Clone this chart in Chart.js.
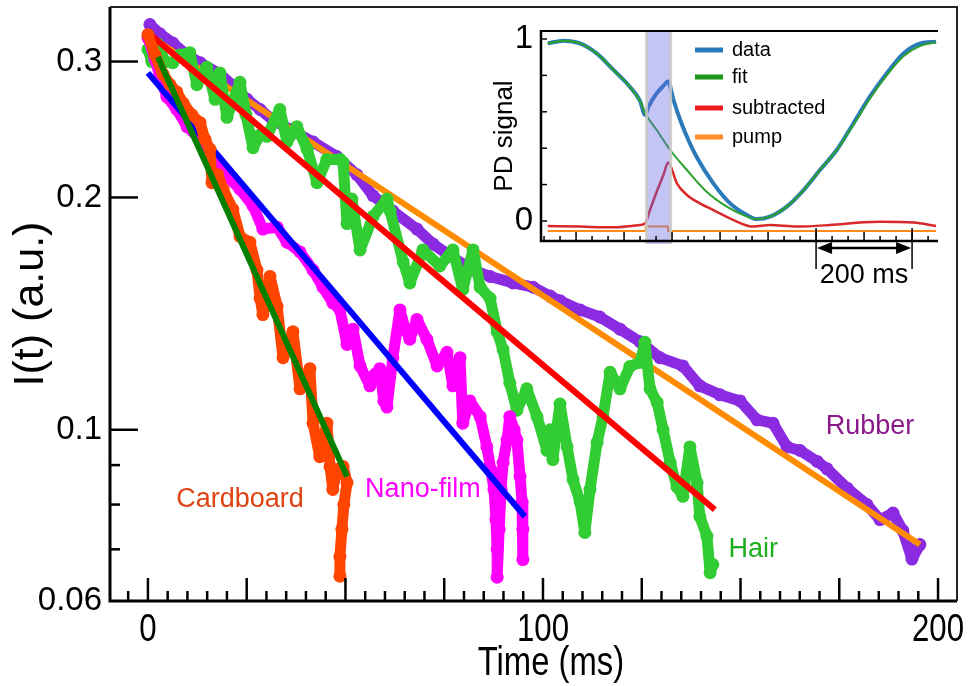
<!DOCTYPE html>
<html><head><meta charset="utf-8">
<script src="https://cdn.jsdelivr.net/npm/chart.js@4.4.1/dist/chart.umd.min.js"></script>
<style>
html,body{margin:0;padding:0;background:#fff;overflow:hidden;}
#wrap{position:relative;width:970px;height:686px;background:#fff;}
canvas{position:absolute;top:0;}
#main{left:0;}
#inset{left:470px;}
</style></head><body>
<div id="wrap">
<canvas id="main" width="970" height="686" style="width:970px;height:686px"></canvas>
<canvas id="inset" width="490" height="300" style="width:490px;height:300px"></canvas>
</div>
<script>
// ---------------- main plot data: time (ms) and I(t) (a.u.) ----------------
const rubberT = [0.5,3.0,6.3,9.9,13.2,18.2,22.0,25.1,28.4,31.6,36.0,41.8,47.8,52.9,57.0,62.0,68.1,72.2,76.5,82.3,86.6,92.4,97.5,101.8,104.3,109.4,114.4,119.5,124.6,129.6,135.4,139.7,144.8,149.9,154.2,158.2,161.8,165.1,169.4,171.9,177.0,182.0,185.3,188.6,191.1,193.4,195.4];
const rubberI = [0.335,0.326,0.317,0.306,0.299,0.289,0.278,0.268,0.260,0.252,0.245,0.236,0.226,0.214,0.201,0.192,0.182,0.174,0.168,0.161,0.158,0.155,0.153,0.149,0.147,0.143,0.140,0.135,0.130,0.124,0.121,0.114,0.111,0.109,0.103,0.102,0.095,0.094,0.091,0.089,0.084,0.080,0.0765,0.078,0.074,0.068,0.071];

const hairT = [0,1,2.5,4.3,6.3,8.1,10.6,12.4,14.9,17,18.2,20,23.3,24.8,26.6,28.4,30.1,33.4,35.2,37.7,40.3,42.8,45.3,48.6,49.4,50.4,51.6,53.7,57,60.5,61.3,64.6,66.3,69.6,73.9,77.2,79.7,82.3,84.1,86.6,88.4,89.9,91.6,93.4,95.9,98.5,101,101.8,102.5,104.3,106.1,107.6,109.4,110.6,111.9,113.7,115.2,117,119.5,122,124.6,125.8,127.1,128.9,130.4,132.2,133.9,135.4,137.2,139,139.7,141.5,142.3,143];
const hairI = [0.311,0.300,0.316,0.300,0.299,0.306,0.308,0.280,0.295,0.268,0.290,0.254,0.282,0.256,0.232,0.241,0.240,0.260,0.236,0.247,0.231,0.209,0.224,0.224,0.222,0.185,0.199,0.171,0.189,0.199,0.192,0.165,0.155,0.171,0.163,0.171,0.152,0.171,0.153,0.148,0.134,0.127,0.115,0.106,0.113,0.104,0.094,0.100,0.0915,0.108,0.095,0.0862,0.0806,0.0736,0.0837,0.0963,0.104,0.1187,0.113,0.1208,0.1223,0.1298,0.113,0.1085,0.100,0.0907,0.0844,0.082,0.095,0.0854,0.0772,0.0728,0.0653,0.0669];

const nanoT = [0,1.8,3.0,4.8,7.3,9.9,13.2,16.5,20.0,23.3,26.6,29.1,32.7,35.2,38.5,41.8,44.3,46.8,48.6,50.4,51.9,53.7,56.2,57.5,58.7,59.7,60.5,62.0,63.8,65.1,66.3,68.1,70.6,73.2,75.7,77.2,79.0,79.7,81.5,84.1,85.8,86.8,87.6,88.1,88.4,88.4,88.9,89.4,89.9,90.9,91.6,92.7,93.4,94.2,94.7,94.9,94.9];
const nanoI = [0.322,0.302,0.287,0.270,0.260,0.247,0.238,0.226,0.213,0.205,0.195,0.182,0.183,0.175,0.170,0.161,0.153,0.146,0.143,0.129,0.135,0.121,0.114,0.118,0.120,0.109,0.107,0.124,0.143,0.135,0.131,0.139,0.131,0.121,0.126,0.114,0.124,0.102,0.109,0.104,0.095,0.0888,0.0837,0.0765,0.0700,0.0644,0.0743,0.0837,0.0907,0.097,0.104,0.100,0.097,0.087,0.0806,0.0743,0.0679];

const cardT = [0,1.8,3.8,5.6,7.3,8.9,11.1,13.2,14.4,15.7,16.2,17.7,19.0,21.5,23.3,25.8,27.6,28.4,29.1,30.9,32.7,34.2,36.7,38.5,41.0,41.8,43.5,45.3,46.1,46.8,47.8,49.4,50.4,49.6,49.1,48.6,48.6];
const cardI = [0.325,0.306,0.289,0.280,0.274,0.265,0.256,0.250,0.238,0.231,0.209,0.214,0.205,0.193,0.178,0.175,0.161,0.148,0.141,0.158,0.1445,0.124,0.134,0.113,0.120,0.102,0.0923,0.102,0.0896,0.0837,0.0888,0.0896,0.0854,0.0800,0.0743,0.0685,0.0646];

// exponential fits (straight lines on the log axis): end points
const rubberFitT = [0, 195.4], rubberFitI = [0.325, 0.071];
const hairFitT   = [0, 143.5], hairFitI   = [0.327, 0.0788];
const nanoFitT   = [0, 95.4],  nanoFitI   = [0.290, 0.0772];
const cardFitT   = [2.5, 50.4], cardFitI  = [0.304, 0.0870];

// axis ticks
const xTickValues = [0, 100, 200];
const xTickLabels = ['0', '100', '200'];
const yTickValues = [0.06, 0.1, 0.2, 0.3];
const yTickLabels = ['0.06', '0.1', '0.2', '0.3'];
const yMajorMarks = [0.1, 0.2, 0.3];
const yMinorMarks = [0.07, 0.08, 0.09];

// ---------------- inset data: time (ms) and PD signal ----------------
const insetDataT = [41,74,108,143,178,212,233,244,251,268,282,292,303,317,334,351,386,421,456,476,504,539,574,608,643,678,712,747,782,817,850];
const insetDataV = [0.976,0.991,0.976,0.921,0.830,0.738,0.661,0.582,0.628,0.701,0.742,0.766,0.665,0.555,0.445,0.353,0.207,0.097,0.033,0.011,0.024,0.079,0.170,0.280,0.390,0.537,0.683,0.811,0.921,0.976,0.985];
const insetFitT = [41,74,108,143,178,212,233,244,268,296,331,372,414,456,476,504,539,574,608,643,678,712,747,782,817,850];
const insetFitV = [0.976,0.991,0.976,0.921,0.830,0.738,0.661,0.592,0.500,0.390,0.280,0.161,0.079,0.024,0.011,0.024,0.079,0.170,0.280,0.390,0.530,0.672,0.800,0.905,0.962,0.982];
const insetSubT = [41,108,178,233,244,254,268,282,292,310,331,358,386,428,469,504,560,629,699,733,803,850];
const insetSubV = [-0.027,-0.031,-0.035,-0.022,-0.013,0.060,0.161,0.253,0.321,0.207,0.143,0.097,0.060,0.005,-0.031,-0.022,-0.031,-0.022,-0.007,-0.004,-0.009,-0.027];
const insetPumpT = [41,244,245,291,292,850];
const insetPumpV = [-0.055,-0.055,-0.031,-0.031,-0.055,-0.055];
const pumpWindow = [247, 297];
const scaleBar = [600, 800];
const insetYTickMarks = [0, 0.2, 0.4, 0.6, 0.8, 1.0];
const insetYTickValues = [0, 1];
const insetYTickLabels = ['0', '1'];
const insetXMajor = [100,200,300,400,500,600,700,800];

const SANS = '"Liberation Sans", Arial, Helvetica, sans-serif';
const NARROW_SCALE = 0.82;   // Arial-Narrow look: Liberation Sans compressed horizontally

function pts(t, v) { return t.map((x, i) => ({ x: x, y: v[i] })); }

function scatterSet(label, t, v, color, order) {
  return { label, data: pts(t, v), showLine: true, borderColor: color, backgroundColor: color,
    borderWidth: 11, pointRadius: 6.5, pointBorderWidth: 0, pointHoverRadius: 0,
    borderJoinStyle: 'round', borderCapStyle: 'round', tension: 0, order };
}
function fitSet(label, t, v, color, order) {
  return { label, data: pts(t, v), showLine: true, borderColor: color, backgroundColor: color,
    borderWidth: 6, pointRadius: 0, pointHoverRadius: 0, tension: 0, order };
}

// text annotations (style / placement, in data coordinates)
const annotations = [
  { text: 'Rubber',    t: 182.8, v: 0.101, color: '#8B1A8B' },
  { text: 'Hair',      t: 153.2, v: 0.0700, color: '#1DAF1D' },
  { text: 'Nano-film', t: 69.6,  v: 0.0837, color: '#FF00FF' },
  { text: 'Cardboard', t: 23.3,  v: 0.0812, color: '#DD4411' }
];

function narrowText(ctx, text, px, py, size) {
  ctx.save();
  ctx.font = size + 'px ' + SANS;
  ctx.textAlign = 'center';
  ctx.textBaseline = 'alphabetic';
  ctx.translate(px, py);
  ctx.scale(NARROW_SCALE, 1);
  ctx.fillText(text, 0, 0);
  ctx.restore();
}

const mainDecor = {
  id: 'mainDecor',
  afterDatasetsDraw(chart) {
    const { ctx, scales: { x, y } } = chart;
    ctx.save();
    ctx.font = '27px ' + SANS;
    ctx.textAlign = 'center';
    ctx.textBaseline = 'middle';
    annotations.forEach(an => {
      ctx.fillStyle = an.color;
      ctx.fillText(an.text, x.getPixelForValue(an.t), y.getPixelForValue(an.v));
    });
    ctx.restore();
  },
  afterDraw(chart) {
    const { ctx, chartArea: a, scales: { x, y } } = chart;
    ctx.save();
    ctx.strokeStyle = '#000';
    ctx.lineCap = 'butt';
    ctx.lineWidth = 2.5;
    for (let v = -5; v <= 200; v += 5) {
      const p = x.getPixelForValue(v);
      const L = (v % 25 === 0) ? 23 : 10;
      ctx.beginPath(); ctx.moveTo(p, a.bottom); ctx.lineTo(p, a.bottom - L); ctx.stroke();
    }
    yMajorMarks.forEach(v => {
      const p = y.getPixelForValue(v);
      ctx.beginPath(); ctx.moveTo(a.left, p); ctx.lineTo(a.left + 28, p); ctx.stroke();
    });
    yMinorMarks.forEach(v => {
      const p = y.getPixelForValue(v);
      ctx.beginPath(); ctx.moveTo(a.left, p); ctx.lineTo(a.left + 10, p); ctx.stroke();
    });
    ctx.lineWidth = 3;
    ctx.beginPath(); ctx.moveTo(a.left, a.top); ctx.lineTo(a.left, a.bottom); ctx.lineTo(a.right, a.bottom); ctx.stroke();
    ctx.lineWidth = 2;
    ctx.strokeStyle = '#222';
    ctx.beginPath(); ctx.moveTo(a.left, a.top); ctx.lineTo(a.right, a.top); ctx.lineTo(a.right, a.bottom); ctx.stroke();
    // x tick labels and axis title (narrow face)
    ctx.fillStyle = '#000';
    xTickValues.forEach((v, i) => narrowText(ctx, xTickLabels[i], x.getPixelForValue(v), a.bottom + 40, 38));
    narrowText(ctx, 'Time (ms)', x.getPixelForValue(102), a.bottom + 74, 40);
    ctx.restore();
  }
};

new Chart(document.getElementById('main'), {
  type: 'scatter',
  data: { datasets: [
    scatterSet('Rubber', rubberT, rubberI, '#8A2BE2', 8),
    fitSet('Rubber fit', rubberFitT, rubberFitI, '#FF8C00', 7),
    scatterSet('Hair', hairT, hairI, '#32CD32', 6),
    fitSet('Hair fit', hairFitT, hairFitI, '#FF0000', 5),
    scatterSet('Nano-film', nanoT, nanoI, '#FF00FF', 4),
    fitSet('Nano-film fit', nanoFitT, nanoFitI, '#0000FF', 3),
    scatterSet('Cardboard', cardT, cardI, '#FF4500', 2),
    fitSet('Cardboard fit', cardFitT, cardFitI, '#008000', 1)
  ]},
  options: {
    responsive: false, animation: false, devicePixelRatio: 1,
    layout: { padding: { left: 0, top: 7, right: 13, bottom: 0 }, autoPadding: false },
    plugins: { legend: { display: false }, tooltip: { enabled: false } },
    scales: {
      x: {
        type: 'linear', min: -9.6, max: 204.8,
        afterBuildTicks: s => { s.ticks = xTickValues.map(v => ({ value: v })); },
        afterFit: s => { s.height = 85; s.paddingLeft = 0; s.paddingRight = 0; },
        grid: { display: false, drawTicks: false }, border: { display: false },
        ticks: { display: false }
      },
      y: {
        type: 'logarithmic', min: 0.06, max: 0.353,
        afterBuildTicks: s => { s.ticks = yTickValues.map(v => ({ value: v })); },
        afterFit: s => { s.width = 110; s.paddingTop = 0; s.paddingBottom = 0; },
        grid: { display: false, drawTicks: false }, border: { display: false },
        ticks: { autoSkip: false, padding: 8, color: '#000',
          font: { family: SANS, size: 33 }, callback: (v, i) => yTickLabels[i] },
        title: { display: true, text: 'I(t) (a.u.)', color: '#000',
          font: { family: SANS, size: 43, lineHeight: 1 }, padding: { top: 10, bottom: 0 } }
      }
    }
  },
  plugins: [mainDecor]
});

// ---------------- inset ----------------
const insetLegend = [
  { text: 'data', color: '#2a7ab9' },
  { text: 'fit', color: '#1a961a' },
  { text: 'subtracted', color: '#ee1c1c' },
  { text: 'pump', color: '#ff8c28' }
];

const insetDecor = {
  id: 'insetDecor',
  afterDatasetsDraw(chart) {
    const { ctx, chartArea: a, scales: { x, y } } = chart;
    ctx.save();
    const x0 = x.getPixelForValue(pumpWindow[0]), x1 = x.getPixelForValue(pumpWindow[1]);
    ctx.fillStyle = 'rgba(100,100,230,0.38)';
    ctx.fillRect(x0, a.top, x1 - x0, a.bottom - a.top + 3);
    ctx.strokeStyle = 'rgba(200,200,200,0.85)';
    ctx.lineWidth = 3;
    [x0, x1].forEach(p => { ctx.beginPath(); ctx.moveTo(p, a.top); ctx.lineTo(p, a.bottom + 3); ctx.stroke(); });

    // frame
    ctx.strokeStyle = '#000';
    ctx.lineWidth = 2;
    ctx.beginPath(); ctx.moveTo(a.left, a.top); ctx.lineTo(a.right, a.top); ctx.stroke();
    ctx.lineWidth = 2.5;
    ctx.beginPath(); ctx.moveTo(a.left, a.top - 1); ctx.lineTo(a.left, a.bottom); ctx.lineTo(a.right, a.bottom); ctx.stroke();
    // ticks
    ctx.lineWidth = 1.5;
    insetYTickMarks.forEach(v => {
      const p = y.getPixelForValue(v);
      ctx.beginPath(); ctx.moveTo(a.left, p); ctx.lineTo(a.left + 6, p); ctx.stroke();
    });
    for (let v = 100 / 3; v < 854; v += 100 / 3) {
      const p = x.getPixelForValue(v);
      const major = insetXMajor.some(m => Math.abs(m - v) < 1);
      ctx.beginPath(); ctx.moveTo(p, a.bottom); ctx.lineTo(p, a.bottom - (major ? 9 : 5)); ctx.stroke();
    }
    // scale bar
    const s0 = x.getPixelForValue(scaleBar[0]), s1 = x.getPixelForValue(scaleBar[1]);
    ctx.lineWidth = 1.5;
    [s0, s1].forEach(p => { ctx.beginPath(); ctx.moveTo(p, a.bottom - 13); ctx.lineTo(p, a.bottom + 28); ctx.stroke(); });
    const ay = a.bottom + 7;
    ctx.lineWidth = 2.5;
    ctx.beginPath(); ctx.moveTo(s0 + 8, ay); ctx.lineTo(s1 - 8, ay); ctx.stroke();
    ctx.fillStyle = '#000';
    ctx.beginPath(); ctx.moveTo(s0 + 1, ay); ctx.lineTo(s0 + 16, ay - 6); ctx.lineTo(s0 + 16, ay + 6); ctx.closePath(); ctx.fill();
    ctx.beginPath(); ctx.moveTo(s1 - 1, ay); ctx.lineTo(s1 - 16, ay - 6); ctx.lineTo(s1 - 16, ay + 6); ctx.closePath(); ctx.fill();
    ctx.font = '27px ' + SANS;
    ctx.textAlign = 'center';
    ctx.textBaseline = 'middle';
    ctx.fillText('200 ms', (s0 + s1) / 2, a.bottom + 35);

    // legend
    const rows = [19, 46, 77, 106];
    ctx.font = '20px ' + SANS;
    ctx.textAlign = 'left';
    insetLegend.forEach((it, i) => {
      const yy = a.top + rows[i];
      ctx.strokeStyle = it.color; ctx.lineWidth = 5; ctx.lineCap = 'butt';
      ctx.beginPath(); ctx.moveTo(a.left + 154, yy); ctx.lineTo(a.left + 182, yy); ctx.stroke();
      ctx.fillStyle = '#000';
      ctx.fillText(it.text, a.left + 191, yy);
    });
    ctx.restore();
  }
};

function insetLine(label, t, v, color, width, order, smooth) {
  return { label, data: pts(t, v), showLine: true, borderColor: color, backgroundColor: color,
    borderWidth: width, pointRadius: 0, pointHoverRadius: 0,
    cubicInterpolationMode: smooth ? 'monotone' : 'default', tension: 0, order };
}

new Chart(document.getElementById('inset'), {
  type: 'scatter',
  data: { datasets: [
    insetLine('data', insetDataT, insetDataV, '#2b7bba', 4, 4, true),
    insetLine('fit', insetFitT, insetFitV, '#2ca02c', 2, 3, true),
    insetLine('subtracted', insetSubT, insetSubV, '#d9282a', 2.5, 2, true),
    insetLine('pump', insetPumpT, insetPumpV, '#ff8c1a', 2, 1, false)
  ]},
  options: {
    responsive: false, animation: false, devicePixelRatio: 1,
    layout: { padding: { left: 0, top: 31, right: 22, bottom: 59 }, autoPadding: false },
    plugins: { legend: { display: false }, tooltip: { enabled: false } },
    scales: {
      x: { type: 'linear', min: 27, max: 854, display: false },
      y: {
        type: 'linear', min: -0.11, max: 1.044,
        afterBuildTicks: s => { s.ticks = insetYTickValues.map(v => ({ value: v })); },
        afterFit: s => { s.width = 71; s.paddingTop = 0; s.paddingBottom = 0; },
        grid: { display: false, drawTicks: false }, border: { display: false },
        ticks: { autoSkip: false, padding: 8, color: '#000',
          font: { family: SANS, size: 33 }, callback: (v, i) => insetYTickLabels[i] },
        title: { display: true, text: 'PD signal', color: '#000',
          font: { family: SANS, size: 26, lineHeight: 1 }, padding: { top: 22, bottom: 0 } }
      }
    }
  },
  plugins: [insetDecor]
});
</script>
</body></html>
